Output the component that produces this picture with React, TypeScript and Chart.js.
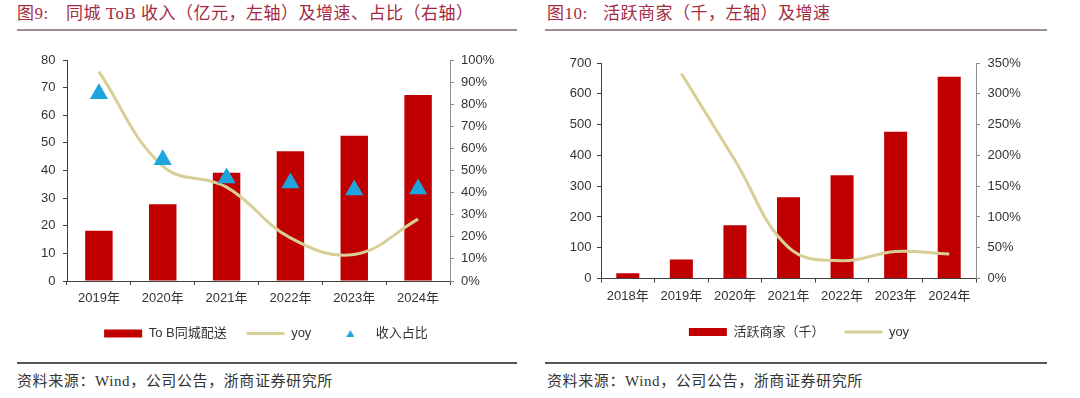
import React, { useEffect, useRef } from "react";
import { Chart, registerables } from "chart.js";
Chart.register(...registerables);

// ---------- data ----------
const years1 = ["2019年", "2020年", "2021年", "2022年", "2023年", "2024年"];
const tobRevenue = [18.2, 27.8, 39.2, 47.0, 52.6, 67.3];
const tobYoy = [94.7, 52, 42.5, 19.5, 12, 28];
const revenueShare = [84.7, 54.9, 46.6, 44.4, 41.2, 41.6];

const years2 = ["2018年", "2019年", "2020年", "2021年", "2022年", "2023年", "2024年"];
const merchants = [17, 62, 172.6, 263.7, 335.4, 476.5, 655.5];
const merchantsYoy: (number | null)[] = [null, 333, 192, 50.5, 28.8, 44, 39.6];

const title1Num = "图9:";
const title1Text = "同城 ToB 收入（亿元，左轴）及增速、占比（右轴）";
const title2Num = "图10:";
const title2Text = "活跃商家（千，左轴）及增速";
const source = "资料来源：Wind，公司公告，浙商证券研究所";
const legend1 = ["To B同城配送", "yoy", "收入占比"];
const legend2 = ["活跃商家（千）", "yoy"];

// ---------- styles ----------
const RED = "#c00000";
const KHAKI = "#d8cf96";
const BLUE = "#1fa5de";
const AXIS = "#404040";
const AXIS2 = "#8c8c8c";
const TICK = "#333333";
const TITLE = "#a42b43";
const SANS = "'Liberation Sans', Arial, 'Noto Sans CJK SC', sans-serif";
const SERIF = "'Liberation Serif', 'Times New Roman', 'Noto Sans CJK SC', serif";

function xScale(h: number, pad: number) {
  return {
    grid: { display: true, drawOnChartArea: false, drawTicks: true, tickLength: 4, color: AXIS },
    border: { display: true, color: AXIS, width: 1 },
    ticks: { color: TICK, font: { size: 13, family: SANS }, padding: pad, maxRotation: 0, autoSkip: false },
    afterFit: (s: any) => { s.height = h; },
  };
}

function yScale(pos: "left" | "right", max: number, step: number, w: number, pad: number, color: string, pct: boolean) {
  return {
    position: pos,
    min: 0,
    max,
    grid: { display: true, drawOnChartArea: false, drawTicks: true, tickLength: 4, color },
    border: { display: true, color, width: 1 },
    ticks: {
      stepSize: step,
      color: TICK,
      font: { size: 13, family: SANS },
      padding: pad,
      callback: (v: any) => (pct ? v + "%" : String(v)),
    },
    afterFit: (s: any) => { s.width = w; },
  };
}

export default function App() {
  const c1 = useRef<HTMLCanvasElement>(null);
  const c2 = useRef<HTMLCanvasElement>(null);

  useEffect(() => {
    const tri = document.createElement("canvas");
    tri.width = 8;
    tri.height = 7;
    const t = tri.getContext("2d")!;
    t.fillStyle = BLUE;
    t.beginPath();
    t.moveTo(4, 0);
    t.lineTo(8, 7);
    t.lineTo(0, 7);
    t.closePath();
    t.fill();

    const legendOpts = (items: any[]) => ({
      position: "bottom" as const,
      labels: {
        usePointStyle: true,
        pointStyleWidth: 38,
        boxHeight: 8,
        padding: 20,
        color: TICK,
        font: { size: 13, family: SANS },
        generateLabels: () => items,
      },
    });

    const ch1 = new Chart(c1.current!, {
      type: "bar",
      data: {
        labels: years1,
        datasets: [
          {
            type: "bar",
            label: legend1[0],
            data: tobRevenue,
            backgroundColor: RED,
            borderWidth: 0,
            yAxisID: "y",
            order: 3,
            categoryPercentage: 0.43,
            barPercentage: 1,
          },
          {
            type: "line",
            label: legend1[1],
            data: tobYoy,
            borderColor: KHAKI,
            borderWidth: 3,
            pointRadius: 0,
            tension: 0.4,
            yAxisID: "y1",
            order: 2,
          },
          {
            type: "line",
            label: legend1[2],
            data: revenueShare,
            showLine: false,
            pointStyle: "triangle",
            pointRadius: 10.5,
            backgroundColor: BLUE,
            borderColor: BLUE,
            borderWidth: 0,
            yAxisID: "y1",
            order: 1,
          },
        ] as any,
      },
      options: {
        responsive: false,
        maintainAspectRatio: false,
        animation: false,
        layout: { padding: { left: 10, right: 18, top: 20, bottom: 10 } },
        scales: {
          x: xScale(26, 6) as any,
          y: yScale("left", 80, 10, 57, 7.5, AXIS, false) as any,
          y1: yScale("right", 100, 10, 72, 7, AXIS2, true) as any,
        },
        plugins: {
          legend: legendOpts([
            { text: legend1[0], fillStyle: RED, strokeStyle: RED, lineWidth: 0, pointStyle: "rect", hidden: false, datasetIndex: 0, fontColor: TICK },
            { text: legend1[1], fillStyle: KHAKI, strokeStyle: KHAKI, lineWidth: 3, pointStyle: "line", hidden: false, datasetIndex: 1, fontColor: TICK },
            { text: legend1[2], fillStyle: BLUE, strokeStyle: BLUE, lineWidth: 0, pointStyle: tri, hidden: false, datasetIndex: 2, fontColor: TICK },
          ]) as any,
          tooltip: { enabled: false },
        },
      },
    });

    const ch2 = new Chart(c2.current!, {
      type: "bar",
      data: {
        labels: years2,
        datasets: [
          {
            type: "bar",
            label: legend2[0],
            data: merchants,
            backgroundColor: RED,
            borderWidth: 0,
            yAxisID: "y",
            order: 2,
            categoryPercentage: 0.43,
            barPercentage: 1,
          },
          {
            type: "line",
            label: legend2[1],
            data: merchantsYoy,
            borderColor: KHAKI,
            borderWidth: 3,
            pointRadius: 0,
            tension: 0.4,
            yAxisID: "y1",
            order: 1,
          },
        ] as any,
      },
      options: {
        responsive: false,
        maintainAspectRatio: false,
        animation: false,
        layout: { padding: { left: 10, right: 32, top: 23, bottom: 11.5 } },
        scales: {
          x: xScale(27, 6.5) as any,
          y: yScale("left", 700, 100, 51, 5.5, AXIS, false) as any,
          y1: yScale("right", 350, 50, 72, 7.5, AXIS2, true) as any,
        },
        plugins: {
          legend: legendOpts([
            { text: legend2[0], fillStyle: RED, strokeStyle: RED, lineWidth: 0, pointStyle: "rect", hidden: false, datasetIndex: 0, fontColor: TICK },
            { text: legend2[1], fillStyle: KHAKI, strokeStyle: KHAKI, lineWidth: 3, pointStyle: "line", hidden: false, datasetIndex: 1, fontColor: TICK },
          ]) as any,
          tooltip: { enabled: false },
        },
      },
    });

    return () => {
      ch1.destroy();
      ch2.destroy();
    };
  }, []);

  const abs = (s: React.CSSProperties): React.CSSProperties => ({ position: "absolute", ...s });
  const titleStyle: React.CSSProperties = {
    fontFamily: SERIF,
    fontSize: 17,
    letterSpacing: "0.5px",
    color: TITLE,
    whiteSpace: "nowrap",
    lineHeight: "20px",
  };
  const srcStyle: React.CSSProperties = {
    fontFamily: SERIF,
    fontSize: 15,
    letterSpacing: "0.6px",
    color: "#333",
    whiteSpace: "nowrap",
    lineHeight: "20px",
  };

  return (
    <div style={abs({ left: 0, top: 0, width: 1080, height: 398, background: "#fff", overflow: "hidden" })}>
      <div style={abs({ left: 17, top: 4, ...titleStyle })}>{title1Num}</div>
      <div style={abs({ left: 66, top: 4, ...titleStyle })}>{title1Text}</div>
      <div style={abs({ left: 547, top: 4, ...titleStyle })}>{title2Num}</div>
      <div style={abs({ left: 603, top: 4, ...titleStyle })}>{title2Text}</div>
      <div style={abs({ left: 17, top: 29, width: 500, height: 2, background: "#9e8d8f" })} />
      <div style={abs({ left: 545, top: 29, width: 502, height: 2, background: "#9e8d8f" })} />

      <canvas ref={c1} width={540} height={320} style={abs({ left: 0, top: 40 })} />
      <canvas ref={c2} width={540} height={320} style={abs({ left: 540, top: 40 })} />

      <div style={abs({ left: 17, top: 362, width: 500, height: 1.5, background: "#555" })} />
      <div style={abs({ left: 545, top: 362, width: 502, height: 1.5, background: "#555" })} />
      <div style={abs({ left: 17, top: 371, ...srcStyle })}>{source}</div>
      <div style={abs({ left: 547, top: 371, ...srcStyle })}>{source}</div>
    </div>
  );
}
